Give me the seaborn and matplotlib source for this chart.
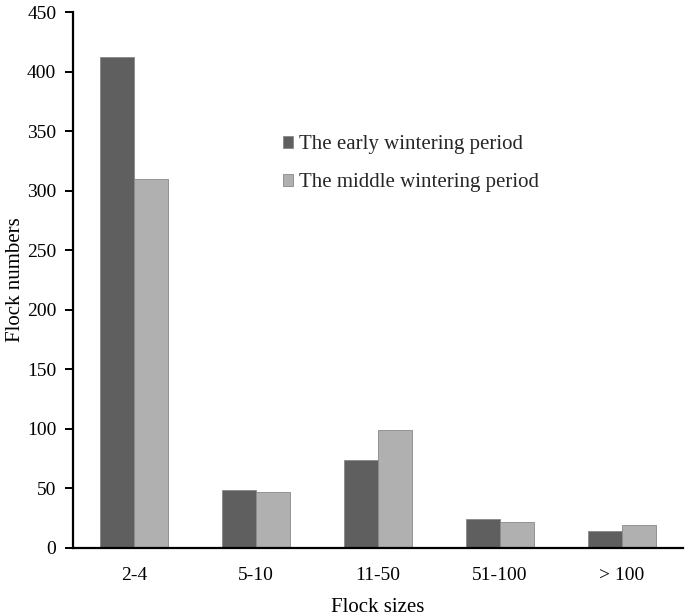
import matplotlib
matplotlib.use("Agg")
import matplotlib.pyplot as plt
import seaborn as sns
import pandas as pd

categories = ["2-4", "5-10", "11-50", "51-100", "> 100"]
early = [412, 49, 74, 24, 14]
middle = [310, 47, 99, 22, 19]
series_names = ["The early wintering period", "The middle wintering period"]
yticks = [0, 50, 100, 150, 200, 250, 300, 350, 400, 450]

df = pd.DataFrame({
    "Flock sizes": categories * 2,
    "Flock numbers": early + middle,
    "Period": [series_names[0]] * len(categories) + [series_names[1]] * len(categories),
})

sns.set_theme(style="white")
plt.rcParams["font.family"] = ["Liberation Serif", "DejaVu Serif"]

fig = plt.figure(figsize=(6.85, 6.16), dpi=100)
ax = fig.add_axes([0.1066, 0.1104, 0.8904, 0.8701])

sns.barplot(data=df, x="Flock sizes", y="Flock numbers", hue="Period",
            order=categories, hue_order=series_names,
            palette=["#5f5f5f", "#b0b0b0"], width=0.56, saturation=1,
            edgecolor="#888888", linewidth=0.6, ax=ax)

ax.set_xlim(-0.5, 4.5)
ax.set_ylim(0, 450)
ax.set_yticks(yticks)
ax.set_yticklabels([str(t) for t in yticks])
for s in ["top", "right"]:
    ax.spines[s].set_visible(False)
for s in ["left", "bottom"]:
    ax.spines[s].set_color("black")
    ax.spines[s].set_linewidth(1.6)
ax.tick_params(axis="y", which="major", direction="out", length=6, width=1.4,
               left=True, labelsize=14, pad=6, colors="black")
ax.tick_params(axis="x", bottom=False, labelsize=14, pad=8, colors="black")
ax.set_xlabel("Flock sizes", fontsize=15, labelpad=10, color="black")
ax.set_ylabel("Flock numbers", fontsize=15, color="black")
ax.yaxis.set_label_coords(-0.078, 0.5)

leg = ax.legend(loc="upper left", bbox_to_anchor=(0.3135, 0.805), frameon=False,
                fontsize=15, handlelength=0.5, handleheight=0.5,
                handletextpad=0.25, labelspacing=0.9)

fig.savefig("out.png", dpi=100)
